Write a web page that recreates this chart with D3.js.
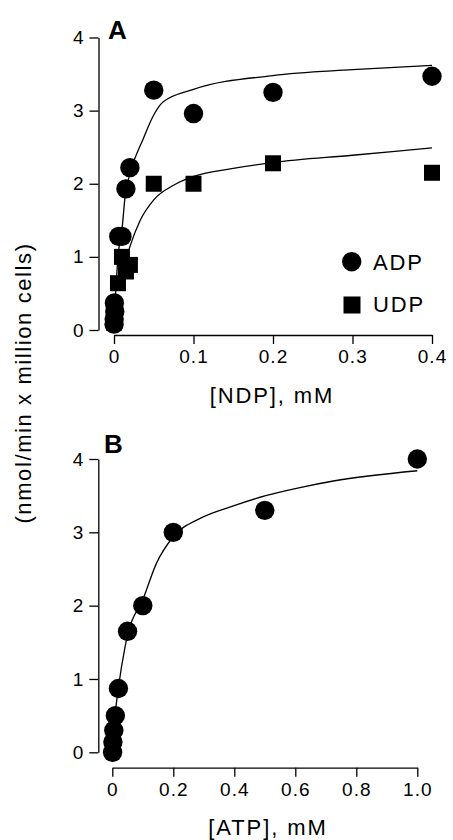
<!DOCTYPE html>
<html>
<head>
<meta charset="utf-8">
<script src="https://cdn.jsdelivr.net/npm/d3@7"></script>
<style>
  body { margin: 0; background: #fff; }
  svg { display: block; font-family: "Liberation Sans", Arial, Helvetica, sans-serif; }
</style>
</head>
<body>
<svg id="chart" width="453" height="840"></svg>
<script>
'use strict';

// values: [concentration mM, rate]
const adpPoints = [[0.0001, 0.08], [0.0002, 0.15], [0.001, 0.25], [0.0005, 0.37], [0.006, 1.28], [0.01, 1.28],
    [0.015, 1.93], [0.02, 2.22], [0.05, 3.28], [0.1, 2.96], [0.2, 3.25], [0.4, 3.47]];
const udpPoints = [[0.0001, 0.1], [0.0005, 0.2], [0.005, 0.64], [0.01, 1.0], [0.015, 0.8], [0.02, 0.89],
    [0.05, 2.0], [0.1, 2.0], [0.2, 2.28], [0.4, 2.15]];
const atpPoints = [[0.001, 0.0], [0.002, 0.14], [0.005, 0.3], [0.01, 0.5], [0.02, 0.87], [0.05, 1.65],
    [0.1, 2.0], [0.2, 3.0], [0.5, 3.3], [1.0, 4.0]];

// fitted lines
const adpFit = [[0.001, 0.3], [0.005, 1.0], [0.01, 1.37], [0.014, 1.83], [0.021, 2.17], [0.037, 2.62],
    [0.049, 2.92], [0.062, 3.12], [0.1, 3.29], [0.2, 3.48], [0.3, 3.56], [0.4, 3.62]];
const udpFit = [[0.01, 0.78], [0.016, 1.0], [0.02, 1.14], [0.033, 1.5], [0.05, 1.78], [0.075, 1.98],
    [0.1, 2.1], [0.15, 2.21], [0.2, 2.29], [0.3, 2.39], [0.4, 2.49]];
const atpFit = [[0.003, 0.25], [0.01, 0.55], [0.02, 0.88], [0.042, 1.44], [0.05, 1.6], [0.1, 2.08],
    [0.145, 2.58], [0.2, 2.94], [0.288, 3.19], [0.397, 3.36], [0.503, 3.5], [0.615, 3.61],
    [0.725, 3.7], [1.0, 3.84]];

const ndpTicks = [0, 0.1, 0.2, 0.3, 0.4];
const atpTicks = [0, 0.2, 0.4, 0.6, 0.8, 1.0];
const rateTicks = [0, 1, 2, 3, 4];

const svg = d3.select("#chart");
const fmtTick = d => d === 0 ? "0" : d3.format(".1f")(d);

function drawPanel(p) {
    const x = d3.scaleLinear().domain(p.xDomain).range(p.xRange);
    const y = d3.scaleLinear().domain([0, 4]).range(p.yRange);
    const g = svg.append("g");

    const yAxis = g.append("g")
        .attr("transform", `translate(${p.yAxisX},0)`)
        .call(d3.axisLeft(y).tickValues(rateTicks).tickFormat(d3.format("d"))
            .tickSize(9).tickSizeOuter(0).tickPadding(5));
    const xAxis = g.append("g")
        .attr("transform", `translate(0,${p.xAxisY})`)
        .call(d3.axisBottom(x).tickValues(p.ticks).tickFormat(fmtTick)
            .tickSize(9).tickSizeOuter(0).tickPadding(6));

    [yAxis, xAxis].forEach(a => {
        a.attr("font-family", null).attr("font-size", 19);
        a.selectAll("path, line").attr("stroke", "#000").attr("stroke-width", 1.3);
        a.selectAll("text").attr("fill", "#000").style("letter-spacing", "1px");
    });

    const line = d3.line().x(d => x(d[0])).y(d => y(d[1])).curve(d3.curveMonotoneX);
    p.fits.forEach(f => {
        g.append("path").attr("d", line(f))
            .attr("fill", "none").attr("stroke", "#000").attr("stroke-width", 1.3);
    });

    if (p.squares) {
        g.selectAll(".sq").data(p.squares).join("rect")
            .attr("x", d => x(d[0]) - 8).attr("y", d => y(d[1]) - 8)
            .attr("width", 16).attr("height", 16).attr("fill", "#000");
    }
    g.selectAll(".dot").data(p.circles).join("circle")
        .attr("cx", d => x(d[0])).attr("cy", d => y(d[1]))
        .attr("r", 9.7).attr("fill", "#000");

    g.append("text")
        .attr("x", p.letterPos[0]).attr("y", p.letterPos[1])
        .attr("font-size", 26).attr("font-weight", "bold")
        .text(p.letter);

    g.append("text")
        .attr("x", p.titlePos[0]).attr("y", p.titlePos[1])
        .attr("text-anchor", "middle")
        .attr("font-size", 22).style("letter-spacing", "1.9px")
        .text(p.title);
}

drawPanel({
    xDomain: [0, 0.4], xRange: [114, 432], yRange: [330, 37.5],
    yAxisX: 98.5, xAxisY: 335, ticks: ndpTicks,
    circles: adpPoints, squares: udpPoints, fits: [adpFit, udpFit],
    letter: "A", letterPos: [108, 38.5],
    title: "[NDP], mM", titlePos: [272, 403]
});

drawPanel({
    xDomain: [0, 1.0], xRange: [112.3, 417.3], yRange: [752.3, 459],
    yAxisX: 98.3, xAxisY: 767.7, ticks: atpTicks,
    circles: atpPoints, fits: [atpFit],
    letter: "B", letterPos: [104, 453],
    title: "[ATP], mM", titlePos: [268, 835]
});

// legend for panel A
const legend = svg.append("g").attr("font-size", 22).style("letter-spacing", "1.9px");
legend.append("circle").attr("cx", 351.7).attr("cy", 261.7).attr("r", 9.7).attr("fill", "#000");
legend.append("text").attr("x", 373).attr("y", 270).text("ADP");
legend.append("rect").attr("x", 343.5).attr("y", 296.5).attr("width", 17).attr("height", 17).attr("fill", "#000");
legend.append("text").attr("x", 373).attr("y", 312).text("UDP");

// shared y label
svg.append("text")
    .attr("transform", "translate(31,383) rotate(-90)")
    .attr("text-anchor", "middle")
    .attr("font-size", 22).style("letter-spacing", "1.6px")
    .text("(nmol/min x million cells)");
</script>
</body>
</html>
